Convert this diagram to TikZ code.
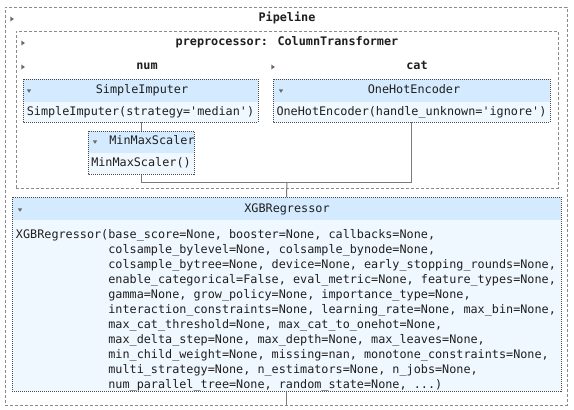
\documentclass[tikz,border=0pt]{standalone}
\usepackage{fontspec}
\newfontfamily\mono{DejaVu Sans Mono}
\definecolor{hdr}{HTML}{D4EBFF}
\definecolor{bdy}{HTML}{F0F8FF}
\definecolor{txt}{HTML}{1F1F1F}
\definecolor{dashc}{HTML}{8A8A8A}
\definecolor{dotc}{HTML}{4A4A4A}
\definecolor{linec}{HTML}{7A7A7A}
\definecolor{tri}{HTML}{6A6A6A}
\newcommand\trir[1]{\fill[tri] (#1) ++(-1.7,-2.5) -- ++(3.6,2.5) -- ++(-3.6,2.5) -- cycle;}
\newcommand\trid[1]{\fill[tri] (#1) ++(-2.2,-1.6) -- ++(4.4,0) -- ++(-2.2,3.4) -- cycle;}
\begin{document}
\begin{tikzpicture}[x=1pt,y=-1pt,
  every node/.style={inner sep=0pt, outer sep=0pt},
  t/.style={font=\mono\fontsize{11.8}{15}\selectfont, text=txt, text height=8.5pt, text depth=3.5pt},
  tb/.style={font=\mono\bfseries\fontsize{11.8}{15}\selectfont, text=txt, text height=8.5pt, text depth=3.5pt},
  grp/.style={draw=dashc, line width=1pt, dash pattern=on 3pt off 2pt},
  estfill/.style={fill=bdy},
  estline/.style={draw=dotc, line width=0.8pt, dash pattern=on 1pt off 1pt},
  conn/.style={draw=linec, line width=1pt},
  ]
\useasboundingbox (0,0) rectangle (574,410);
\fill[white] (0,0) rectangle (574,410);

% groups
\node[grp, minimum width=562pt, minimum height=398pt] (pipe) at (286,206) {};
\node[grp, minimum width=542pt, minimum height=157pt] (pre) at (287,109.5) {};

% estimator boxes (fill)
\node[estfill, minimum width=235pt, minimum height=43pt] (si) at (140.5,100.5) {};
\node[estfill, minimum width=277pt, minimum height=43pt] (ohe) at (411.5,100.5) {};
\node[estfill, minimum width=106pt, minimum height=43pt] (mm) at (141,152.5) {};
\node[estfill, minimum width=549pt, minimum height=194pt] (xgb) at (286.5,294) {};

% connectors
\coordinate (mg) at (287,182);
\draw[conn] (mm.north |- si.south) -- (mm.north);
\draw[conn] (mm.south) |- (mg);
\draw[conn] (ohe.south) |- (mg);
\draw[conn] (mg) -- (xgb.north);
\draw[conn] (xgb.south) -- (xgb.south |- pipe.south);

% headers
\fill[hdr] (si.north west) rectangle ([yshift=-22.5pt]si.north east);
\fill[hdr] (ohe.north west) rectangle ([yshift=-22.5pt]ohe.north east);
\fill[hdr] (mm.north west) rectangle ([yshift=-21.5pt]mm.north east);
\fill[hdr] (xgb.north west) rectangle ([yshift=-23pt]xgb.north east);

% borders
\draw[estline] (si.north west) rectangle (si.south east);
\draw[estline] (ohe.north west) rectangle (ohe.south east);
\draw[estline] (mm.north west) rectangle (mm.south east);
\draw[estline] (xgb.north west) rectangle (xgb.south east);

% labels
\node[tb] (tpipe) at (287,19) {Pipeline};
\node[tb] (tpre) at (287,43) {preprocessor: ColumnTransformer};
\node[tb] (tnum) at (147,67) {num};
\node[tb] (tcat) at (417,67) {cat};
\trir{12,19}
\trir{23,43}
\trir{23,67}
\trir{273,67}

\node[t] (sih) at (142,91) {SimpleImputer};
\node[t] (sib) at (140.5,112.5) {SimpleImputer(strategy='median')};
\trid{29,91}
\node[t] (oheh) at (414,91) {OneHotEncoder};
\node[t] (oheb) at (411.5,112.5) {OneHotEncoder(handle\_unknown='ignore')};
\trid{281,91}
\node[t] (mmh) at (152,142) {MinMaxScaler};
\node[t] (mmb) at (141,163.5) {MinMaxScaler()};
\trid{95,142}
\node[t] (xgbh) at (287,210) {XGBRegressor};
\trid{20,210}
\node[t, text height=, text depth=, anchor=north west, align=left] (xgbb) at (16,229) {%
XGBRegressor(base\_score=None, booster=None, callbacks=None,\\
\hphantom{XGBRegressor(}colsample\_bylevel=None, colsample\_bynode=None,\\
\hphantom{XGBRegressor(}colsample\_bytree=None, device=None, early\_stopping\_rounds=None,\\
\hphantom{XGBRegressor(}enable\_categorical=False, eval\_metric=None, feature\_types=None,\\
\hphantom{XGBRegressor(}gamma=None, grow\_policy=None, importance\_type=None,\\
\hphantom{XGBRegressor(}interaction\_constraints=None, learning\_rate=None, max\_bin=None,\\
\hphantom{XGBRegressor(}max\_cat\_threshold=None, max\_cat\_to\_onehot=None,\\
\hphantom{XGBRegressor(}max\_delta\_step=None, max\_depth=None, max\_leaves=None,\\
\hphantom{XGBRegressor(}min\_child\_weight=None, missing=nan, monotone\_constraints=None,\\
\hphantom{XGBRegressor(}multi\_strategy=None, n\_estimators=None, n\_jobs=None,\\
\hphantom{XGBRegressor(}num\_parallel\_tree=None, random\_state=None, ...)};
\end{tikzpicture}
\end{document}
